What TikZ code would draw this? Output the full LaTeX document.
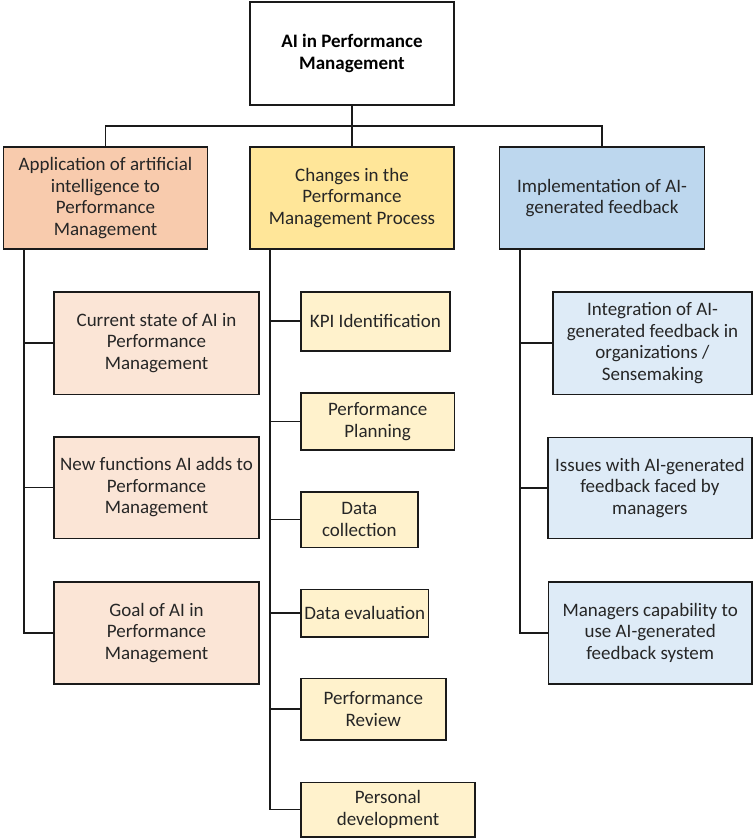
\documentclass[tikz,border=0pt]{standalone}
\usepackage{fontspec}
\setmainfont{Carlito}
\definecolor{lone}{HTML}{F8CBAD}
\definecolor{ltwo}{HTML}{FFE699}
\definecolor{lthree}{HTML}{BDD7EE}
\definecolor{sone}{HTML}{FBE5D6}
\definecolor{stwo}{HTML}{FFF2CC}
\definecolor{sthree}{HTML}{DEEBF7}
\definecolor{edge}{HTML}{1A1A1A}
\definecolor{txt}{HTML}{262626}
\tikzset{
  box/.style={draw=edge, line width=1.6pt, align=center, inner sep=0pt, text=txt,
    font=\fontsize{19}{21.5}\selectfont},
  conn/.style={draw=edge, line width=1.6pt},
}
\begin{document}
\begin{tikzpicture}[x=1pt,y=-1pt]
\useasboundingbox (0,0) rectangle (753,838);
% top
\node[box, fill=white, minimum width=204pt, minimum height=103pt, font=\bfseries\fontsize{19}{21.5}\selectfont, text=black] (top) at (352,53.5) {AI in Performance\\Management};
% level 1
\node[box, fill=lone, minimum width=204pt, minimum height=102pt] (la) at (105.5,198) {Application of artificial\\intelligence to\\Performance\\Management};
\node[box, fill=ltwo, minimum width=204pt, minimum height=102pt] (lb) at (352,198) {Changes in the\\Performance\\Management Process};
\node[box, fill=lthree, minimum width=205pt, minimum height=102pt] (lc) at (602,198) {Implementation of AI-\\generated feedback};
% level 2 left
\node[box, fill=sone, minimum width=205pt, minimum height=102.6pt] (cur) at (156.5,343) {Current state of AI in\\Performance\\Management};
\node[box, fill=sone, minimum width=205pt, minimum height=101.6pt] (new) at (156.5,487.5) {New functions AI adds to\\Performance\\Management};
\node[box, fill=sone, minimum width=205pt, minimum height=101.7pt] (goal) at (156.5,633) {Goal of AI in\\Performance\\Management};
% level 2 middle
\node[box, fill=stwo, minimum width=148.7pt, minimum height=59pt] (kpi) at (375.35,321.2) {KPI Identification};
\node[box, fill=stwo, minimum width=153.3pt, minimum height=56.7pt] (plan) at (377.65,421.6) {Performance\\Planning};
\node[box, fill=stwo, minimum width=116.7pt, minimum height=55.6pt] (coll) at (359.35,519.5) {Data\\collection};
\node[box, fill=stwo, minimum width=127.3pt, minimum height=47.4pt] (eval) at (364.65,613) {Data evaluation};
\node[box, fill=stwo, minimum width=144.7pt, minimum height=61.7pt] (rev) at (373.35,709.2) {Performance\\Review};
\node[box, fill=stwo, minimum width=174pt, minimum height=54.4pt] (dev) at (388,809.5) {Personal\\development};
% level 2 right
\node[box, fill=sthree, minimum width=199.5pt, minimum height=102.6pt] (integ) at (652.45,343) {Integration of AI-\\generated feedback in\\organizations /\\Sensemaking};
\node[box, fill=sthree, minimum width=204.3pt, minimum height=101pt] (iss) at (649.85,487.8) {Issues with AI-generated\\feedback faced by\\managers};
\node[box, fill=sthree, minimum width=203.7pt, minimum height=102.3pt] (mgr) at (650.15,632.9) {Managers capability to\\use AI-generated\\feedback system};
% connectors top
\coordinate (hb) at (352,126);
\draw[conn] (top.south) -- (hb);
\draw[conn] (la.north) |- (hb) -| (lc.north);
\draw[conn] (hb) -- (lb.north);
% trunks
\coordinate (ta) at (24,249);
\coordinate (tb) at (270,249);
\coordinate (tc) at (520,249);
\draw[conn] (ta) |- (cur.west);
\draw[conn] (ta) |- (new.west);
\draw[conn] (ta) |- (goal.west);
\draw[conn] (tb) |- (kpi.west);
\draw[conn] (tb) |- (plan.west);
\draw[conn] (tb) |- (coll.west);
\draw[conn] (tb) |- (eval.west);
\draw[conn] (tb) |- (rev.west);
\draw[conn] (tb) |- (dev.west);
\draw[conn] (tc) |- (integ.west);
\draw[conn] (tc) |- (iss.west);
\draw[conn] (tc) |- (mgr.west);
\end{tikzpicture}
\end{document}
